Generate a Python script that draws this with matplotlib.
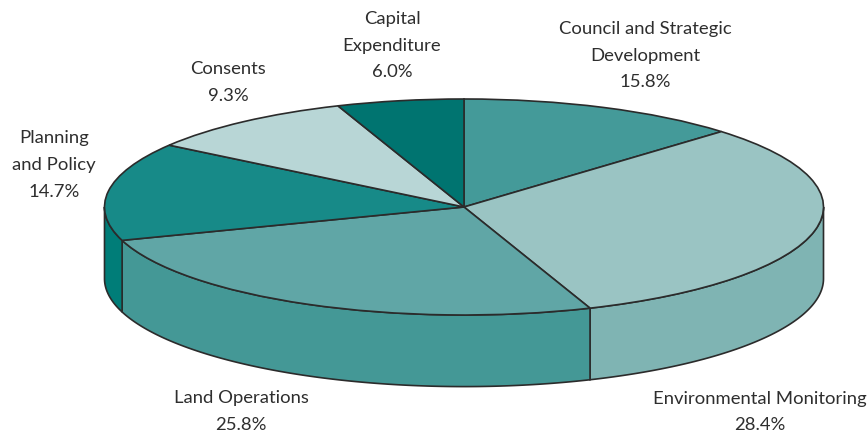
"""Tilted pie of expenditure shares, with a side wall drawn under the wedges."""
import numpy as np
import matplotlib
matplotlib.use('Agg')
import matplotlib.pyplot as plt

plt.rcParams['font.family'] = ['Lato', 'DejaVu Sans']

# slice names and the printed percentages, clockwise from 12 o'clock
names = ['Council and Strategic\nDevelopment', 'Environmental Monitoring',
         'Land Operations', 'Planning\nand Policy', 'Consents',
         'Capital\nExpenditure']
printed = ['15.8%', '28.4%', '25.8%', '14.7%', '9.3%', '6.0%']
# the shares as drawn: they do not quite follow the printed numbers in the picture
drawn = [12.7, 31.6, 25.7, 14.7, 9.6, 5.7]
top_colors = ['#449a99', '#9ac4c3', '#60a6a6', '#178a88', '#b8d6d6', '#007470']
side_colors = ['#449a99', '#7fb4b3', '#449896', '#007d78', '#b8d6d6', '#007470']
label_px = [(645, 55.5), (759.5, 412), (241, 411.5), (54, 165), (228, 82.5), (392, 45.5)]

W, H = 868, 437
CX, CY, RX, RY = 464, 207, 359.5, 108
DEPTH = 71.6 / RY
LINE = '#2b2b2b'

fig = plt.figure(figsize=(W / 100, H / 100), dpi=100)
ax = fig.add_axes([0, 0, 1, 1])

wedges, _ = ax.pie(drawn, colors=top_colors, startangle=90, counterclock=False,
                   wedgeprops={'edgecolor': LINE, 'linewidth': 1.2, 'zorder': 3})
ax.set_aspect('auto')
ax.set_xlim(-CX / RX, (W - CX) / RX)
ax.set_ylim(-(H - CY) / RY, CY / RY)
ax.axis('off')

# side wall, only the front half of the ellipse shows
ends = 90 - 3.6 * np.cumsum(drawn)
starts = np.r_[90, ends[:-1]]
for hi, lo, col in zip(starts, ends, side_colors):
    # angles run downwards, keep what lies in the front half (-180..0)
    a = max(lo, -180)
    b = min(hi, 0)
    if a >= b:
        continue
    t = np.radians(np.linspace(a, b, 120))
    x = np.cos(t)
    y = np.sin(t)
    ax.fill(np.r_[x, x[::-1]], np.r_[y, y[::-1] - DEPTH], facecolor=col,
            edgecolor=LINE, linewidth=1.2, zorder=2)

for name, val, (px, py) in zip(names, printed, label_px):
    fig.text(px / W, 1 - py / H, name + '\n' + val, ha='center', va='center',
             fontsize=13.3, color='#2e2e2e', linespacing=1.82)

fig.savefig('out.png', dpi=100)
